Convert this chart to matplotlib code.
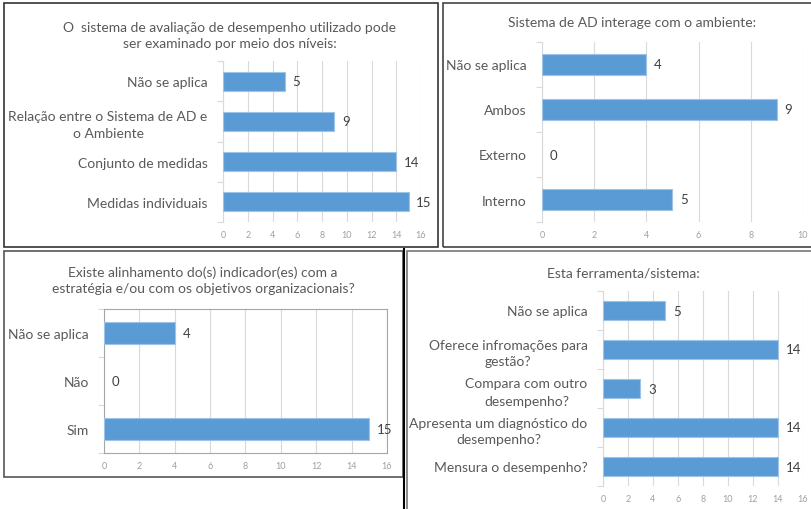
import matplotlib.pyplot as plt
from matplotlib.patches import Rectangle
from matplotlib.lines import Line2D

plt.rcParams['font.family'] = ['Lato', 'DejaVu Sans']

W, H = 812, 510

# data for each panel (bottom category first)
cats1 = ['Medidas individuais', 'Conjunto de medidas',
         'Relação entre o Sistema de AD e\no Ambiente', 'Não se aplica']
vals1 = [15, 14, 9, 5]
title1 = 'O  sistema de avaliação de desempenho utilizado pode\nser examinado por meio dos níveis:'

cats2 = ['Interno', 'Externo', 'Ambos', 'Não se aplica']
vals2 = [5, 0, 9, 4]
title2 = 'Sistema de AD interage com o ambiente:'

cats3 = ['Sim', 'Não', 'Não se aplica']
vals3 = [15, 0, 4]
title3 = 'Existe alinhamento do(s) indicador(es) com a\nestratégia e/ou com os objetivos organizacionais?'

cats4 = ['Mensura o desempenho?', 'Apresenta um diagnóstico do\ndesempenho?',
         'Compara com outro\ndesempenho?', 'Oferece infromações para\ngestão?',
         'Não se aplica']
vals4 = [14, 14, 3, 14, 5]
title4 = 'Esta ferramenta/sistema:'

BAR = '#5B9BD5'
TXT = '#595959'


def px(x0, y0, x1, y1):
    return [x0 / W, 1 - y1 / H, (x1 - x0) / W, (y1 - y0) / H]


def panel(fig, rect, cats, vals, xmax, title, tx, ty, boxed=False):
    ax = fig.add_axes(px(*rect))
    y = range(len(cats))
    ax.barh(y, vals, height=0.476, color=BAR, edgecolor='#9DC3E6',
            linewidth=[0.8 if v else 0 for v in vals], zorder=3)
    for yi, v in zip(y, vals):
        ax.annotate(str(v), (v, yi), xytext=(5.5, 0), textcoords='offset points',
                    va='center', ha='left', fontsize=9.5, color='#404040')
    ax.set_xlim(0, xmax)
    ax.set_ylim(-0.5, len(cats) - 0.5)
    ax.set_xticks(range(0, xmax + 1, 2))
    ax.set_yticks(y)
    ax.set_yticklabels(cats, fontsize=10, color=TXT, multialignment='center',
                       linespacing=1.5)
    ax.set_yticks([i - 0.5 for i in range(len(cats) + 1)], minor=True)
    ax.tick_params(axis='y', which='major', length=0, pad=11)
    ax.tick_params(axis='y', which='minor', length=4, color='#D9D9D9', width=0.8)
    ax.tick_params(axis='x', length=0, labelsize=6.5, labelcolor='#A0A0A0', pad=6)
    ax.grid(axis='x', color='#D9D9D9', linewidth=0.8, zorder=0)
    for s in ['top', 'right', 'bottom']:
        ax.spines[s].set_visible(boxed)
        ax.spines[s].set_color('#A6A6A6')
    ax.spines['left'].set_color('#D9D9D9' if not boxed else '#A6A6A6')
    ax.spines['left'].set_linewidth(0.8)
    fig.text(tx / W, 1 - ty / H, title, ha='center', va='center', fontsize=10,
             color=TXT, linespacing=1.4)
    return ax


fig = plt.figure(figsize=(W / 100, H / 100), dpi=100)

panel(fig, (223, 62, 421, 223), cats1, vals1, 16, title1, 230, 36)
panel(fig, (542, 43, 803, 223), cats2, vals2, 10, title2, 632, 23)
panel(fig, (104, 310, 387, 454), cats3, vals3, 16, title3, 203, 281, boxed=True)
panel(fig, (603, 292, 803, 487), cats4, vals4, 16, title4, 623, 273)

# frames around each chart
frames = [((4, 4, 438, 248), '#333333'), ((443, 4, 815, 248), '#444444'),
          ((4, 252, 403, 478), '#555555'), ((407, 252, 815, 515), '#777777')]
for (x0, y0, x1, y1), c in frames:
    fig.patches.append(Rectangle((x0 / W, 1 - y1 / H), (x1 - x0) / W, (y1 - y0) / H,
                                 transform=fig.transFigure, fill=False,
                                 edgecolor=c, linewidth=1.2))
fig.lines.append(Line2D([404.5 / W, 404.5 / W], [0, 1 - 250 / H],
                        transform=fig.transFigure, color='black', linewidth=1.5))

fig.savefig('out.png', dpi=100)
